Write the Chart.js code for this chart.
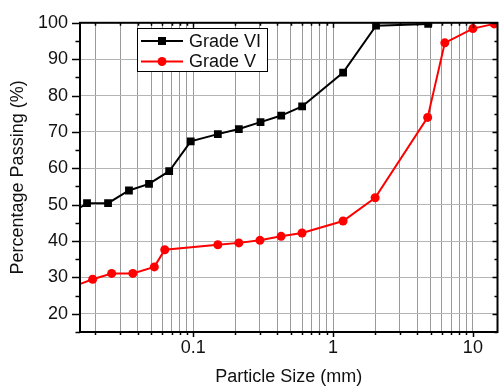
<!DOCTYPE html>
<html>
<head>
<meta charset="utf-8">
<script src="https://cdn.jsdelivr.net/npm/chart.js@4.4.0/dist/chart.umd.min.js"></script>
<style>
  html, body { margin: 0; padding: 0; background: #fff; }
  #wrap { width: 503px; height: 388px; position: relative; }
</style>
</head>
<body>
<div id="wrap"><canvas id="chart"></canvas></div>
<script>
// Grading curves - particle size (mm) vs % passing
// (first point of each series sits just left of the axis, only its segment shows)
const sizesVI = [0.012, 0.0174, 0.0246, 0.0347, 0.0483, 0.0673, 0.096, 0.150, 0.212, 0.303, 0.426, 0.601, 1.18, 2.03, 4.79];
const passVI  = [46.5, 50.4, 50.4, 53.9, 55.7, 59.2, 67.4, 69.4, 70.8, 72.7, 74.5, 77.0, 86.3, 99.2, 99.7];

const sizesV = [0.012, 0.0191, 0.0261, 0.0370, 0.0527, 0.0626, 0.150, 0.212, 0.300, 0.425, 0.600, 1.18, 2.0, 4.75, 6.3, 10.0, 14.2];
const passV  = [26.6, 29.5, 31.1, 31.1, 32.9, 37.6, 39.0, 39.5, 40.2, 41.3, 42.2, 45.5, 51.9, 74.0, 94.5, 98.4, 99.7];

const seriesNames = ['Grade VI', 'Grade V'];
const xTickLabels = [0.1, 1, 10];
const yTickLabels = [20, 30, 40, 50, 60, 70, 80, 90, 100];
const xMin = 0.0155, xMax = 15;
const yMin = 15, yMax = 100;

const FONT = '"Liberation Sans", Arial, sans-serif';

function toPoints(xs, ys) {
    return xs.map((v, i) => ({ x: v, y: ys[i] }));
}

function isDecade(v) {
    const l = Math.log10(v);
    return Math.abs(l - Math.round(l)) < 1e-6;
}

// log ticks at 1..9 x 10^n inside the range (no 1.5 / 15 extras)
function logTicks(min, max) {
    const out = [];
    for (let e = Math.floor(Math.log10(min)); e <= Math.ceil(Math.log10(max)); e++) {
        for (let s = 1; s <= 9; s++) {
            const v = Number((s * Math.pow(10, e)).toPrecision(6));
            if (v >= min && v <= max) out.push({ value: v, major: s === 1 });
        }
    }
    return out;
}

// axis frame plus tick marks (outside on left/bottom, inside on top/right)
const frameAndTicks = {
    id: 'frameAndTicks',
    afterDatasetsDraw(chart) {
        const { ctx, chartArea: a, scales: { x, y } } = chart;
        ctx.save();
        ctx.strokeStyle = '#000';
        ctx.lineWidth = 1.5;
        ctx.beginPath();
        x.ticks.forEach(t => {
            const px = Math.round(x.getPixelForValue(t.value)) + 0.5;
            const len = isDecade(t.value) ? 5 : 3;
            ctx.moveTo(px, a.bottom); ctx.lineTo(px, a.bottom + len);
            ctx.moveTo(px, a.top); ctx.lineTo(px, a.top + len);
        });
        y.ticks.forEach(t => {
            const py = Math.round(y.getPixelForValue(t.value)) + 0.5;
            const major = t.value % 10 === 0;
            ctx.moveTo(a.left, py); ctx.lineTo(a.left - (major ? 8 : 4.5), py);
            ctx.moveTo(a.right, py); ctx.lineTo(a.right - (major ? 5 : 3), py);
        });
        ctx.stroke();
        ctx.lineWidth = 2;
        ctx.strokeRect(a.left, a.top, a.right - a.left, a.bottom - a.top);
        ctx.restore();
    }
};

// boxed legend inside the plot, upper left
const boxLegend = {
    id: 'boxLegend',
    afterDraw(chart) {
        const ctx = chart.ctx;
        const bx = 137.5, by = 28.5, bw = 130, bh = 43;
        ctx.save();
        ctx.fillStyle = '#fff';
        ctx.fillRect(bx, by, bw, bh);
        ctx.strokeStyle = '#000';
        ctx.lineWidth = 1;
        ctx.strokeRect(bx, by, bw, bh);
        chart.data.datasets.forEach((ds, i) => {
            const cy = 41 + i * 20.5;
            ctx.strokeStyle = ds.borderColor;
            ctx.lineWidth = 2;
            ctx.beginPath();
            ctx.moveTo(141, cy); ctx.lineTo(183, cy);
            ctx.stroke();
            ctx.fillStyle = ds.borderColor;
            if (ds.pointStyle === 'rect') {
                ctx.fillRect(158, cy - 4, 8, 8);
            } else {
                ctx.beginPath();
                ctx.arc(162, cy, 4.5, 0, Math.PI * 2);
                ctx.fill();
            }
            ctx.fillStyle = '#111';
            ctx.font = '18px ' + FONT;
            ctx.textBaseline = 'middle';
            ctx.fillText(ds.label, 189, cy + 1);
        });
        ctx.restore();
    }
};

new Chart(document.getElementById('chart'), {
    type: 'scatter',
    data: {
        datasets: [
            {
                label: seriesNames[0],
                data: toPoints(sizesVI, passVI),
                showLine: true,
                borderColor: '#000000',
                backgroundColor: '#000000',
                borderWidth: 2,
                pointStyle: 'rect',
                pointRadius: 5.5,
                pointBorderWidth: 0,
                tension: 0
            },
            {
                label: seriesNames[1],
                data: toPoints(sizesV, passV),
                showLine: true,
                borderColor: '#ff0000',
                backgroundColor: '#ff0000',
                borderWidth: 2,
                pointStyle: 'circle',
                pointRadius: 4.5,
                pointBorderWidth: 0,
                tension: 0
            }
        ]
    },
    options: {
        responsive: true,
        maintainAspectRatio: false,
        animation: false,
        layout: { padding: { top: 20, right: 1, left: 0, bottom: 0 } },
        plugins: {
            legend: { display: false },
            tooltip: { enabled: false }
        },
        scales: {
            x: {
                type: 'logarithmic',
                min: xMin,
                max: xMax,
                afterBuildTicks: s => { s.ticks = logTicks(xMin, xMax); },
                afterFit: s => { s.height = 56; },
                border: { display: false },
                grid: { color: '#9a9a9a', lineWidth: 1, drawTicks: false },
                ticks: {
                    autoSkip: false,
                    maxRotation: 0,
                    padding: 5,
                    color: '#111',
                    font: { family: FONT, size: 18 },
                    callback: v => xTickLabels.find(l => Math.abs(l - v) < 1e-9) !== undefined ? String(v) : ''
                },
                title: {
                    display: true,
                    text: 'Particle Size (mm)',
                    color: '#111',
                    font: { family: FONT, size: 18 },
                    padding: { top: 0, bottom: 0 }
                }
            },
            y: {
                min: yMin,
                max: yMax,
                afterFit: s => { s.width = 80; },
                border: { display: false },
                grid: {
                    drawTicks: false,
                    lineWidth: 1,
                    color: c => (c.tick && yTickLabels.includes(c.tick.value)) ? '#b4b4b4' : 'rgba(0,0,0,0)'
                },
                ticks: {
                    stepSize: 5,
                    autoSkip: false,
                    padding: 12,
                    color: '#111',
                    font: { family: FONT, size: 18 },
                    callback: v => yTickLabels.includes(v) ? String(v) : ''
                },
                title: {
                    display: true,
                    text: 'Percentage Passing (%)',
                    color: '#111',
                    font: { family: FONT, size: 18 },
                    padding: { top: 7, bottom: 0 }
                }
            }
        }
    },
    plugins: [frameAndTicks, boxLegend]
});
</script>
</body>
</html>
